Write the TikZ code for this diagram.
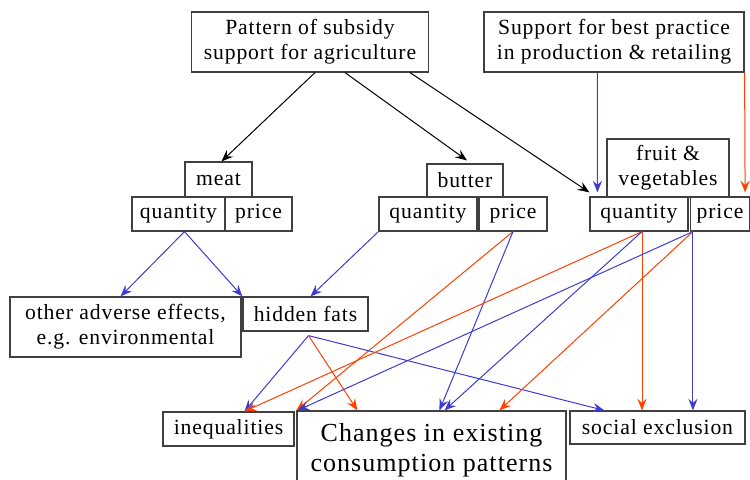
\documentclass[tikz,border=0pt]{standalone}
\usepackage{fontspec}
\setmainfont{Liberation Serif}[LetterSpace=4]
\usetikzlibrary{arrows.meta,calc}
\definecolor{linkblue}{RGB}{60,60,210}
\definecolor{linkred}{RGB}{255,64,0}

\begin{document}
\begin{tikzpicture}[x=0.6pt,y=-0.6pt,
  box/.style={draw=black!75,line width=0.7pt,align=center,inner sep=0pt,
    minimum height=20.4pt,font=\fontsize{13}{15}\selectfont},
  arr/.style={-{Stealth[length=7pt,width=5.5pt,inset=2.5pt]},line width=0.6pt},
  blu/.style={arr,linkblue},
  rd/.style={arr,linkred}]
  \useasboundingbox (0,0) rectangle (750,479);
  \clip (0,0) rectangle (750,479);
  % sources
  \node[box,minimum width=142.2pt,minimum height=36pt] (pattern) at (310,42)
    {Pattern of subsidy\\support for agriculture};
  \node[box,minimum width=156pt,minimum height=36pt] (support) at (614,42)
    {Support for best practice\\in production \& retailing};
  % foods
  \node[box,minimum width=40.2pt,minimum height=21pt] (meat) at (218.5,179.5) {meat};
  \node[box,minimum width=55.8pt] (mq) at (178.5,214) {quantity};
  \node[box,minimum width=40.2pt] (mp) at (258.5,214) {price};
  \node[box,minimum width=45.6pt,minimum height=19.8pt] (butter) at (465,180.5) {butter};
  \node[box,minimum width=58.8pt] (bq) at (428,214) {quantity};
  \node[box,minimum width=40.8pt] (bp) at (513,214) {price};
  \node[box,minimum width=73.2pt,minimum height=34.8pt] (fruit) at (668,168)
    {fruit \&\\vegetables};
  \node[box,minimum width=58.8pt] (fq) at (639,214) {quantity};
  \node[box,minimum width=35.4pt] (fp) at (720,214) {price};
  % effects
  \node[box,minimum width=138.6pt,minimum height=36pt] (other) at (125.5,327)
    {other adverse effects,\\e.g. environmental};
  \node[box,minimum width=75pt] (hidden) at (305.5,314) {hidden fats};
  \node[box,minimum width=78.6pt] (ineq) at (228.5,429) {inequalities};
  \node[box,minimum width=161.4pt,minimum height=46.8pt,
    font=\fontsize{15.6}{18}\selectfont] (changes) at (431.5,450)
    {Changes in existing\\consumption patterns};
  \node[box,minimum width=105pt,minimum height=19.8pt] (social) at (657.5,427.5)
    {social exclusion};
  % start points
  \coordinate (mqs) at ($(mq.south)+(6,0)$);
  \coordinate (hfs) at ($(hidden.south)+(3,4)$);
  \coordinate (fqs) at ($(fq.south)+(3,0)$);
  \coordinate (fps) at ($(fp.south west)+(3,0)$);
  % subsidy and support
  \draw[arr] ($(pattern.south)+(5,0)$) -- ($(meat.north)+(3,0)$);
  \draw[arr] ($(pattern.south)+(35,0)$) -- ($(butter.north)+(2,-3)$);
  \draw[arr] ($(pattern.south)+(100,0)$) -- ($(fq.north west)+(0,-4)$);
  \draw[blu] ($(support.south west)+(114,0)$) -- ($(fq.north west)+(8,-4)$);
  \draw[rd] (support.south east) -- ($(fp.north east)+(-5,-4)$);
  % meat and butter
  \draw[blu] (mqs) -- ($(other.north)+(-5,0)$);
  \draw[blu] (mqs) -- (hidden.north west);
  \draw[blu] (bq.south west) -- ($(hidden.north)+(5,0)$);
  \draw[rd] (bp.south) -- (changes.north west);
  \draw[blu] (bp.south) -- ($(changes.north west)+(143,0)$);
  % hidden fats
  \draw[blu] (hfs) -- ($(ineq.north)+(16,0)$);
  \draw[rd] (hfs) -- ($(changes.north west)+(61,0)$);
  \draw[blu] (hfs) -- ($(social.north west)+(35,0)$);
  % fruit and vegetables
  \draw[rd] (fqs) -- ($(ineq.north)+(16,0)$);
  \draw[blu] (fqs) -- ($(changes.north west)+(148,0)$);
  \draw[rd] (fqs) -- (fqs |- social.north);
  \draw[blu] (fps) -- ($(changes.north west)+(1,0)$);
  \draw[rd] (fps) -- ($(changes.north west)+(203,0)$);
  \draw[blu] (fps) -- (fps |- social.north);
\end{tikzpicture}
\end{document}
